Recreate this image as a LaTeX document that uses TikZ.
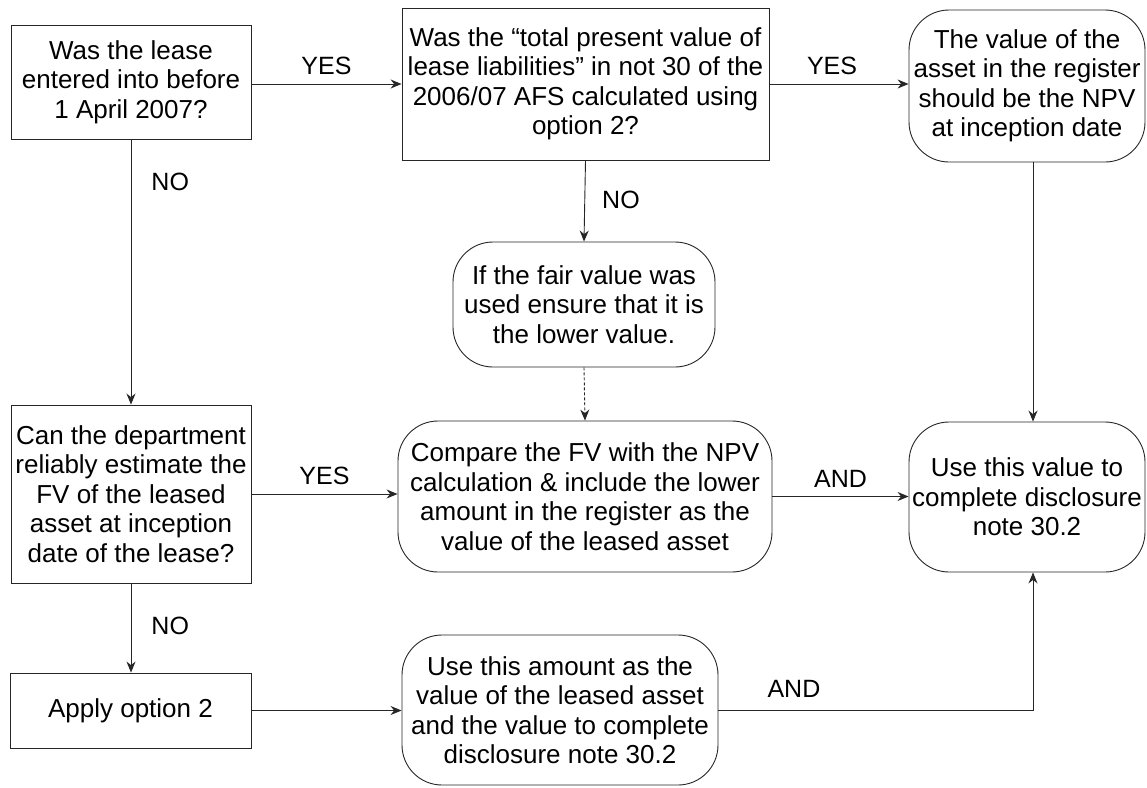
\documentclass[tikz,border=0pt]{standalone}
\usepackage{fontspec}
\setmainfont{Liberation Sans}
\usetikzlibrary{arrows.meta}
\begin{document}
\begin{tikzpicture}[x=1pt,y=-1pt,
  base/.style={draw=black!85, line width=0.9pt, align=center, inner sep=0pt,
    font=\fontsize{26}{29.5}\selectfont},
  sq/.style={base},
  rnd/.style={base, rounded corners=40pt},
  conn/.style={draw=black!85, line width=0.9pt, -{Stealth[length=11pt,width=9pt]}},
  lbl/.style={inner sep=0pt, font=\fontsize{25}{29}\selectfont},
]
\useasboundingbox (0,0) rectangle (1147,787);

\node[sq, minimum width=240pt, minimum height=114pt] (A) at (131,82)
  {Was the lease\\entered into before\\1 April 2007?};
\node[sq, minimum width=367pt, minimum height=152pt] (B) at (585.5,84)
  {Was the “total present value of\\lease liabilities” in not 30 of the\\2006/07 AFS calculated using\\option 2?};
\node[rnd, minimum width=236pt, minimum height=152pt] (C) at (1027,86)
  {The value of the\\asset in the register\\should be the NPV\\at inception date};
\node[rnd, minimum width=262pt, minimum height=125pt] (F) at (584,304.5)
  {If the fair value was\\used ensure that it is\\the lower value.};
\node[sq, minimum width=240pt, minimum height=178pt] (D) at (131,494)
  {Can the department\\reliably estimate the\\FV of the leased\\asset at inception\\date of the lease?};
\node[rnd, minimum width=374pt, minimum height=151pt] (E) at (585,496.5)
  {Compare the FV with the NPV\\calculation \& include the lower\\amount in the register as the\\value of the leased asset};
\node[rnd, minimum width=236pt, minimum height=150pt] (G) at (1027,497)
  {Use this value to\\complete disclosure\\note 30.2};
\node[sq, minimum width=241pt, minimum height=75pt] (H) at (130.5,710.5)
  {Apply option 2};
\node[rnd, minimum width=316pt, minimum height=150pt] (I) at (560,710)
  {Use this amount as the\\value of the leased asset\\and the value to complete\\disclosure note 30.2};

\draw[conn] (A.east |- B.west) -- node[lbl, pos=0.5, above=9pt] {YES} (B.west);
\draw[conn] (B.east) -- node[lbl, pos=0.45, above=9pt] {YES} (C.west |- B.east);
\draw[conn] (A.south) -- node[lbl, pos=0.16, anchor=west, xshift=20pt] {NO} (D.north);
\draw[conn] (B.south) -- node[lbl, pos=0.49, anchor=west, xshift=17pt] {NO} (F.north);
\draw[conn, dash pattern=on 3pt off 2pt] (F.south) -- (E.north);
\draw[conn] (D.east) -- node[lbl, pos=0.5, above=9pt] {YES} (D.east -| E.west);
\draw[conn] (E.east) -- node[lbl, pos=0.5, above=9pt] {AND} (E.east -| G.west);
\draw[conn] ([xshift=6pt]C.south) -- ([xshift=6pt]G.north);
\draw[conn] (A.south |- D.south) -- node[lbl, pos=0.48, anchor=west, xshift=20pt] {NO} (A.south |- H.north);
\draw[conn] (H.east) -- (H.east -| I.west);
\draw[conn] (I.east) -- node[lbl, pos=0.24, above=12pt] {AND} ([xshift=6pt]I.east -| G.south) -- ([xshift=6pt]G.south);
\end{tikzpicture}
\end{document}
